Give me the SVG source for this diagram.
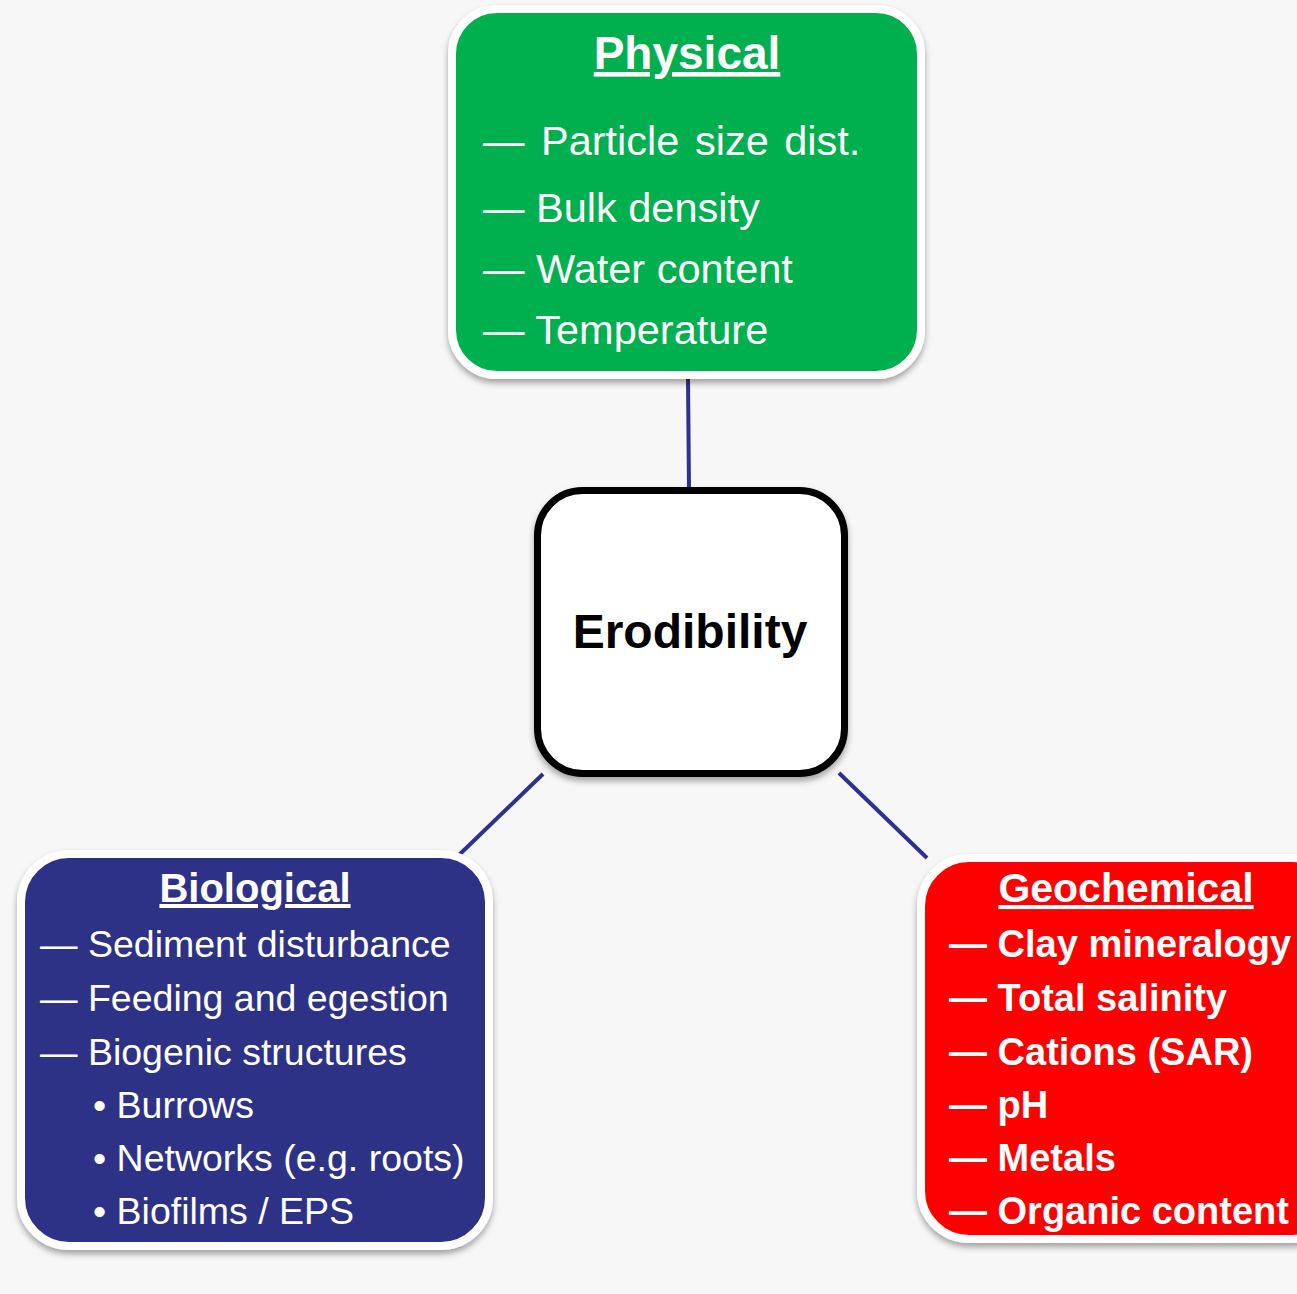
<svg xmlns="http://www.w3.org/2000/svg" width="1297" height="1294" viewBox="0 0 1297 1294">
<defs>
<filter id="sh" x="-10%" y="-10%" width="120%" height="125%">
<feDropShadow dx="0" dy="4" stdDeviation="3" flood-color="#000" flood-opacity="0.35"/>
</filter>
<style>
.t{font-family:"Liberation Sans",Arial,sans-serif;fill:#fff}
.h{font-weight:bold;text-decoration:underline;text-anchor:middle}
.conn{stroke:#2E3192;stroke-width:4;fill:none}
</style>
</defs>
<rect width="1297" height="1294" fill="#F7F7F7"/>
<g id="connectors">
<line class="conn" x1="688" y1="378" x2="689" y2="490"/>
<line class="conn" x1="543" y1="774" x2="459" y2="855"/>
<line class="conn" x1="839" y1="773" x2="927" y2="858"/>
</g>
<g id="physical">
<rect x="452" y="9" width="469" height="366" rx="45" fill="#00B050" stroke="#fff" stroke-width="8" filter="url(#sh)"/>
<text class="t h" x="687" y="69" font-size="46">Physical</text>
<text class="t" font-size="41.5">
<tspan x="483" y="155">— <tspan x="541" word-spacing="4">Particle size dist.</tspan></tspan>
<tspan x="483" y="222">— Bulk  density</tspan>
<tspan x="483" y="283">— Water content</tspan>
<tspan x="483" y="344">— Temperature</tspan>
</text>
</g>
<g id="erodibility">
<rect x="537.5" y="490.5" width="307" height="283" rx="45" fill="#fff" stroke="#000" stroke-width="7" filter="url(#sh)"/>
<text x="690" y="648" font-family="Liberation Sans,Arial,sans-serif" font-size="48" font-weight="bold" text-anchor="middle" fill="#000">Erodibility</text>
</g>
<g id="biological">
<rect x="21" y="854" width="468" height="392" rx="48" fill="#2E3087" stroke="#fff" stroke-width="8" filter="url(#sh)"/>
<text class="t h" x="255" y="902" font-size="40">Biological</text>
<text class="t" font-size="37.5">
<tspan x="40" y="957">— Sediment disturbance</tspan>
<tspan x="40" y="1011">— Feeding and egestion</tspan>
<tspan x="40" y="1065">— Biogenic structures</tspan>
<tspan x="93" y="1118">• Burrows</tspan>
<tspan x="93" y="1171">• Networks (e.g. roots)</tspan>
<tspan x="93" y="1224">• Biofilms / EPS</tspan>
</text>
</g>
<g id="geochemical">
<rect x="921" y="858" width="420" height="381" rx="48" fill="#FF0000" stroke="#fff" stroke-width="8" filter="url(#sh)"/>
<text class="t h" x="1126" y="902" font-size="41">Geochemical</text>
<text class="t" font-size="38" font-weight="bold">
<tspan x="949" y="957">— Clay mineralogy</tspan>
<tspan x="949" y="1011">— Total salinity</tspan>
<tspan x="949" y="1065">— Cations (SAR)</tspan>
<tspan x="949" y="1118">— pH</tspan>
<tspan x="949" y="1171">— Metals</tspan>
<tspan x="949" y="1224">— Organic content</tspan>
</text>
</g>
</svg>
